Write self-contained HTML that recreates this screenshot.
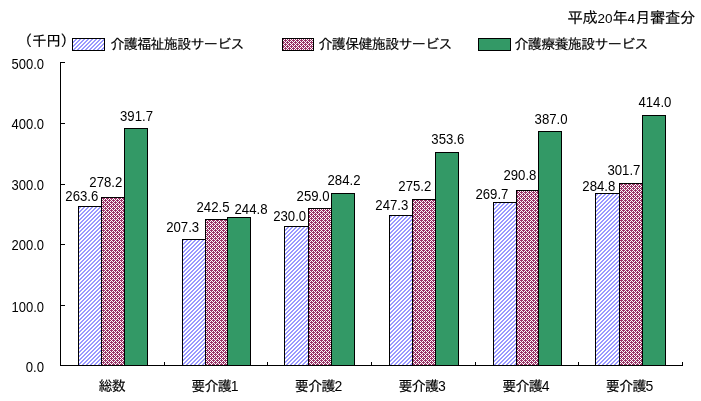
<!DOCTYPE html>
<html lang="ja">
<head>
<meta charset="utf-8">
<title>平成20年4月審査分</title>
<style>
html,body{margin:0;padding:0;background:#fff;}
body{width:701px;height:401px;overflow:hidden;}
svg{display:block;}
text{font-family:"Liberation Sans","IPAGothic",sans-serif;fill:#000;}
.t10{font-size:14px;letter-spacing:-0.67px;stroke:#000;stroke-width:0.15px;}
.t11{font-size:15.3px;letter-spacing:-0.38px;stroke:#000;stroke-width:0.15px;}
.num{font-size:14.5px;}
.d11{font-size:13.5px;letter-spacing:0.08px;stroke:none;}
.d10{stroke:none;}
.bar{stroke:#000;stroke-width:1;shape-rendering:crispEdges;}
.ax{stroke:#000;stroke-width:1;fill:none;shape-rendering:crispEdges;}
</style>
</head>
<body>
<svg width="701" height="401" viewBox="0 0 701 401">
<defs>
<pattern id="pb" width="4" height="4" patternUnits="userSpaceOnUse" shape-rendering="crispEdges">
<rect width="4" height="4" fill="#fff"/>
<rect x="2" y="0" width="2" height="1" fill="#9999ff"/>
<rect x="1" y="1" width="2" height="1" fill="#9999ff"/>
<rect x="0" y="2" width="2" height="1" fill="#9999ff"/>
<rect x="3" y="3" width="1" height="1" fill="#9999ff"/>
<rect x="0" y="3" width="1" height="1" fill="#9999ff"/>
</pattern>
<pattern id="pm" width="4" height="4" patternUnits="userSpaceOnUse" shape-rendering="crispEdges">
<rect width="4" height="4" fill="#993366"/>
<rect x="3" y="0" width="1" height="1" fill="#fff"/>
<rect x="0" y="1" width="1" height="1" fill="#fff"/>
<rect x="2" y="1" width="1" height="1" fill="#fff"/>
<rect x="1" y="2" width="1" height="1" fill="#fff"/>
<rect x="0" y="3" width="1" height="1" fill="#fff"/>
<rect x="2" y="3" width="1" height="1" fill="#fff"/>
</pattern>
</defs>
<rect width="701" height="401" fill="#fff"/>
<rect class="bar" x="78.5" y="206.5" width="23" height="159" fill="url(#pb)"/>
<rect class="bar" x="101.5" y="197.5" width="23" height="168" fill="url(#pm)"/>
<rect class="bar" x="124.5" y="128.5" width="23" height="237" fill="#339966"/>
<rect class="bar" x="182.5" y="239.5" width="23" height="126" fill="url(#pb)"/>
<rect class="bar" x="205.5" y="219.5" width="22" height="146" fill="url(#pm)"/>
<rect class="bar" x="227.5" y="217.5" width="23" height="148" fill="#339966"/>
<rect class="bar" x="284.5" y="226.5" width="24" height="139" fill="url(#pb)"/>
<rect class="bar" x="308.5" y="208.5" width="23" height="157" fill="url(#pm)"/>
<rect class="bar" x="331.5" y="193.5" width="23" height="172" fill="#339966"/>
<rect class="bar" x="389.5" y="215.5" width="23" height="150" fill="url(#pb)"/>
<rect class="bar" x="412.5" y="199.5" width="23" height="166" fill="url(#pm)"/>
<rect class="bar" x="435.5" y="152.5" width="23" height="213" fill="#339966"/>
<rect class="bar" x="493.5" y="202.5" width="23" height="163" fill="url(#pb)"/>
<rect class="bar" x="516.5" y="190.5" width="22" height="175" fill="url(#pm)"/>
<rect class="bar" x="538.5" y="131.5" width="23" height="234" fill="#339966"/>
<rect class="bar" x="595.5" y="193.5" width="24" height="172" fill="url(#pb)"/>
<rect class="bar" x="619.5" y="183.5" width="23" height="182" fill="url(#pm)"/>
<rect class="bar" x="642.5" y="115.5" width="23" height="250" fill="#339966"/>
<path class="ax" d="M60.5 62v304M60 365.5h623M60 62.5h5M60 123.5h5M60 184.5h5M60 244.5h5M60 305.5h5M164.5 362v4M267.5 362v4M371.5 362v4M475.5 362v4M578.5 362v4M682.5 362v4"/>
<text class="num" x="11.5" y="69" textLength="32.5" lengthAdjust="spacingAndGlyphs">500.0</text>
<text class="num" x="11.5" y="129" textLength="32.5" lengthAdjust="spacingAndGlyphs">400.0</text>
<text class="num" x="11.5" y="190" textLength="32.5" lengthAdjust="spacingAndGlyphs">300.0</text>
<text class="num" x="11.5" y="250" textLength="32.5" lengthAdjust="spacingAndGlyphs">200.0</text>
<text class="num" x="11.5" y="312" textLength="32.5" lengthAdjust="spacingAndGlyphs">100.0</text>
<text class="num" x="25.7" y="372" textLength="18.3" lengthAdjust="spacingAndGlyphs">0.0</text>
<text class="t10" x="111.8" y="391" text-anchor="middle">総数</text>
<text class="t10" x="214.5" y="391" text-anchor="middle">要介護<tspan class="d10" dx="-0.4">1</tspan></text>
<text class="t10" x="318.2" y="391" text-anchor="middle">要介護<tspan class="d10" dx="-0.4">2</tspan></text>
<text class="t10" x="421.8" y="391" text-anchor="middle">要介護<tspan class="d10" dx="-0.4">3</tspan></text>
<text class="t10" x="525.5" y="391" text-anchor="middle">要介護<tspan class="d10" dx="-0.4">4</tspan></text>
<text class="t10" x="629.2" y="391" text-anchor="middle">要介護<tspan class="d10" dx="-0.4">5</tspan></text>
<text class="num" x="65.3" y="201" textLength="33" lengthAdjust="spacingAndGlyphs">263.6</text>
<text class="num" x="89.3" y="187" textLength="33" lengthAdjust="spacingAndGlyphs">278.2</text>
<text class="num" x="120.0" y="121" textLength="33" lengthAdjust="spacingAndGlyphs">391.7</text>
<text class="num" x="166.2" y="232" textLength="33" lengthAdjust="spacingAndGlyphs">207.3</text>
<text class="num" x="196.5" y="212" textLength="33" lengthAdjust="spacingAndGlyphs">242.5</text>
<text class="num" x="234.5" y="214" textLength="33" lengthAdjust="spacingAndGlyphs">244.8</text>
<text class="num" x="273.2" y="221" textLength="33" lengthAdjust="spacingAndGlyphs">230.0</text>
<text class="num" x="296.6" y="201" textLength="33" lengthAdjust="spacingAndGlyphs">259.0</text>
<text class="num" x="327.5" y="185" textLength="33" lengthAdjust="spacingAndGlyphs">284.2</text>
<text class="num" x="375.3" y="210" textLength="33" lengthAdjust="spacingAndGlyphs">247.3</text>
<text class="num" x="398.3" y="191" textLength="33" lengthAdjust="spacingAndGlyphs">275.2</text>
<text class="num" x="431.3" y="144" textLength="33" lengthAdjust="spacingAndGlyphs">353.6</text>
<text class="num" x="475.4" y="199" textLength="33" lengthAdjust="spacingAndGlyphs">269.7</text>
<text class="num" x="503.4" y="180" textLength="33" lengthAdjust="spacingAndGlyphs">290.8</text>
<text class="num" x="534.6" y="124" textLength="33" lengthAdjust="spacingAndGlyphs">387.0</text>
<text class="num" x="582.3" y="191" textLength="33" lengthAdjust="spacingAndGlyphs">284.8</text>
<text class="num" x="607.4" y="175" textLength="33" lengthAdjust="spacingAndGlyphs">301.7</text>
<text class="num" x="638.4" y="107" textLength="33" lengthAdjust="spacingAndGlyphs">414.0</text>
<rect class="bar" x="72.5" y="38.5" width="32" height="12" fill="url(#pb)"/>
<text class="t10" x="110.5" y="49">介護福祉施設サービス</text>
<rect class="bar" x="282.5" y="38.5" width="31" height="12" fill="url(#pm)"/>
<text class="t10" x="318.5" y="49">介護保健施設サービス</text>
<rect class="bar" x="478.5" y="38.5" width="32" height="12" fill="#339966"/>
<text class="t10" x="514.5" y="49">介護療養施設サービス</text>
<text class="t11" x="46.2" y="45.5" text-anchor="middle" style="font-size:14.7px;letter-spacing:-0.4px">（千円）</text>
<text class="t11" x="694.8" y="23" text-anchor="end">平成<tspan class="d11">20</tspan>年<tspan class="d11">4</tspan>月審査分</text>
</svg>
</body>
</html>
